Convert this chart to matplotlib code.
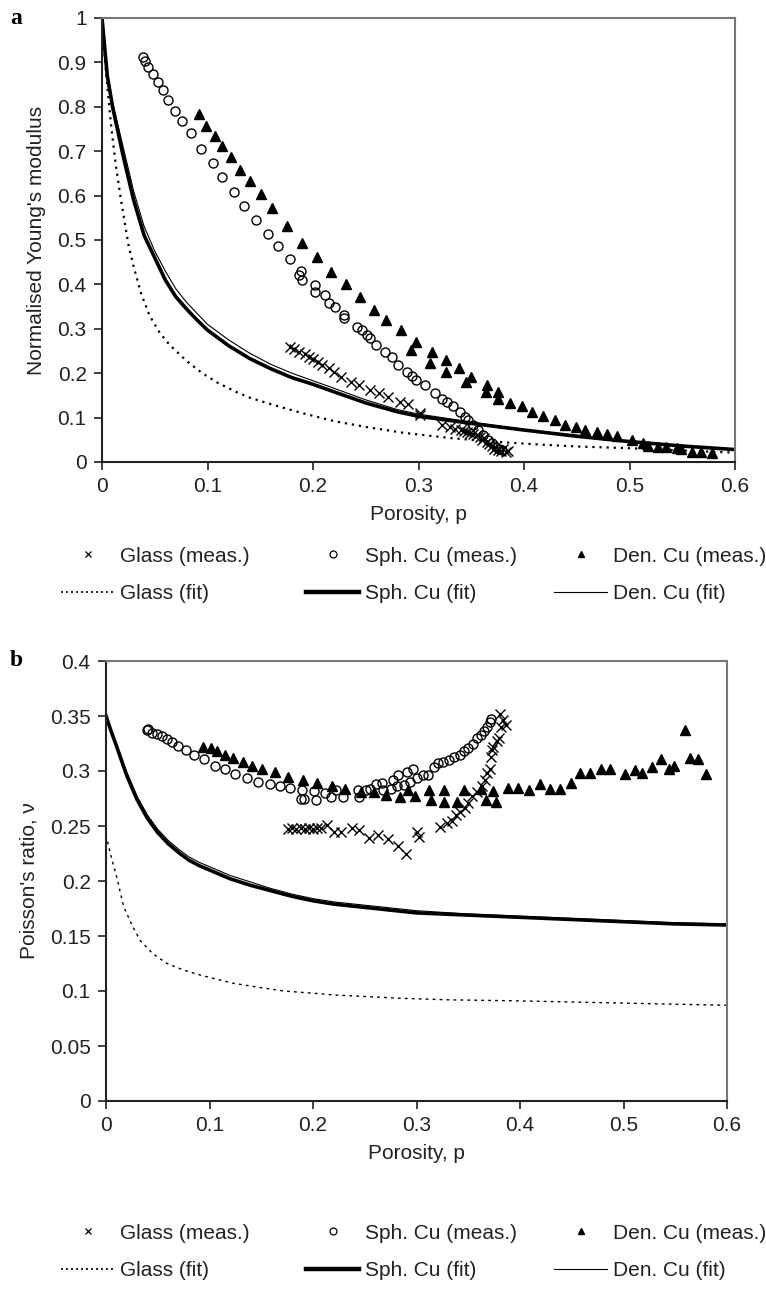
import matplotlib
matplotlib.use('Agg')
import matplotlib.pyplot as plt
from matplotlib.lines import Line2D
from matplotlib.ticker import FuncFormatter, MultipleLocator

plt.rcParams['font.family'] = ['Liberation Sans', 'DejaVu Sans']
plt.rcParams['font.size'] = 15

# ---- (a) normalised Young's modulus ----
glass_p_E = [0.178, 0.182, 0.187, 0.192, 0.196, 0.200, 0.205, 0.209, 0.215, 0.220, 0.227, 0.236, 0.244,
             0.254, 0.263, 0.271, 0.282, 0.290, 0.301, 0.301, 0.322, 0.330, 0.335, 0.340, 0.343, 0.346,
             0.349, 0.352, 0.355, 0.358, 0.360, 0.362, 0.365, 0.367, 0.370, 0.372, 0.375, 0.378, 0.380,
             0.383, 0.385]
glass_E = [0.260, 0.254, 0.248, 0.243, 0.237, 0.231, 0.225, 0.218, 0.211, 0.203, 0.192, 0.181, 0.173,
           0.162, 0.155, 0.147, 0.136, 0.131, 0.110, 0.106, 0.083, 0.078, 0.075, 0.072, 0.070, 0.068,
           0.065, 0.063, 0.060, 0.057, 0.050, 0.055, 0.045, 0.040, 0.035, 0.030, 0.028, 0.025, 0.030,
           0.022, 0.025]

sph_p_E = [0.039, 0.0405, 0.044, 0.048, 0.053, 0.058, 0.063, 0.069, 0.076, 0.084, 0.094, 0.105, 0.114,
           0.125, 0.135, 0.146, 0.157, 0.167, 0.178, 0.189, 0.187, 0.190, 0.202, 0.202, 0.211, 0.215,
           0.221, 0.229, 0.229, 0.242, 0.246, 0.251, 0.254, 0.260, 0.268, 0.275, 0.281, 0.289, 0.294,
           0.298, 0.306, 0.316, 0.322, 0.327, 0.333, 0.339, 0.344, 0.347, 0.352, 0.356, 0.361, 0.366,
           0.370, 0.373, 0.376, 0.379]
sph_E = [0.912, 0.904, 0.890, 0.873, 0.856, 0.838, 0.815, 0.791, 0.767, 0.741, 0.706, 0.673, 0.641,
         0.609, 0.577, 0.544, 0.513, 0.486, 0.457, 0.431, 0.421, 0.410, 0.398, 0.383, 0.375, 0.359,
         0.350, 0.331, 0.325, 0.305, 0.297, 0.286, 0.279, 0.264, 0.248, 0.236, 0.218, 0.203, 0.194,
         0.185, 0.173, 0.156, 0.143, 0.136, 0.125, 0.113, 0.102, 0.095, 0.083, 0.072, 0.061, 0.050,
         0.042, 0.034, 0.030, 0.027]

den_p_E = [0.092, 0.099, 0.107, 0.114, 0.122, 0.131, 0.140, 0.151, 0.161, 0.175, 0.190, 0.204, 0.217,
           0.231, 0.245, 0.258, 0.269, 0.283, 0.298, 0.293, 0.313, 0.311, 0.326, 0.326, 0.338, 0.345,
           0.350, 0.365, 0.364, 0.375, 0.375, 0.387, 0.398, 0.408, 0.418, 0.429, 0.439, 0.449, 0.458,
           0.469, 0.479, 0.488, 0.502, 0.513, 0.518, 0.527, 0.535, 0.545, 0.549, 0.559, 0.568, 0.578]
den_E = [0.783, 0.757, 0.735, 0.712, 0.688, 0.658, 0.633, 0.604, 0.571, 0.532, 0.493, 0.462, 0.429,
         0.401, 0.372, 0.342, 0.320, 0.297, 0.271, 0.252, 0.248, 0.224, 0.230, 0.202, 0.211, 0.181,
         0.192, 0.173, 0.158, 0.158, 0.143, 0.134, 0.125, 0.113, 0.104, 0.095, 0.083, 0.078, 0.072,
         0.068, 0.064, 0.059, 0.050, 0.043, 0.036, 0.034, 0.034, 0.031, 0.029, 0.023, 0.023, 0.020]

glass_fit_p_E = [0, 0.003, 0.006, 0.009, 0.013, 0.018, 0.025, 0.030, 0.037, 0.045, 0.055, 0.064, 0.080,
                 0.095, 0.110, 0.127, 0.140, 0.159, 0.175, 0.190, 0.220, 0.250, 0.285, 0.330, 0.370,
                 0.410, 0.450, 0.500, 0.550, 0.600]
glass_fit_E = [1.0, 0.90, 0.82, 0.75, 0.67, 0.59, 0.49, 0.44, 0.38, 0.33, 0.29, 0.264, 0.228,
               0.200, 0.178, 0.158, 0.145, 0.131, 0.120, 0.110, 0.092, 0.079, 0.066, 0.054, 0.046,
               0.040, 0.035, 0.031, 0.026, 0.021]

fit_p_E = [0, 0.005, 0.01, 0.02, 0.03, 0.04, 0.05, 0.06, 0.07, 0.08, 0.09, 0.10, 0.12, 0.14, 0.16,
           0.18, 0.20, 0.22, 0.25, 0.28, 0.30, 0.35, 0.40, 0.45, 0.50, 0.55, 0.60]
sph_fit_E = [1.0, 0.87, 0.80, 0.69, 0.59, 0.51, 0.46, 0.41, 0.372, 0.345, 0.32, 0.297, 0.262, 0.233,
             0.210, 0.190, 0.175, 0.158, 0.133, 0.113, 0.103, 0.087, 0.072, 0.058, 0.046, 0.036, 0.028]
den_fit_E = [1.0, 0.88, 0.81, 0.71, 0.61, 0.53, 0.475, 0.43, 0.39, 0.36, 0.335, 0.31, 0.275, 0.245,
             0.220, 0.200, 0.183, 0.166, 0.140, 0.118, 0.108, 0.090, 0.073, 0.060, 0.047, 0.037, 0.029]

# ---- (b) Poisson's ratio ----
glass_p_v = [0.176, 0.180, 0.184, 0.188, 0.192, 0.196, 0.200, 0.204, 0.208, 0.214, 0.220, 0.227, 0.238,
             0.244, 0.254, 0.263, 0.272, 0.282, 0.290, 0.300, 0.302, 0.323, 0.329, 0.334, 0.338, 0.342,
             0.347, 0.350, 0.354, 0.358, 0.363, 0.366, 0.368, 0.371, 0.372, 0.374, 0.378, 0.380, 0.373,
             0.381, 0.382, 0.384, 0.386]
glass_v = [0.247, 0.248, 0.247, 0.248, 0.247, 0.248, 0.247, 0.248, 0.248, 0.251, 0.245, 0.245, 0.248,
           0.246, 0.239, 0.242, 0.238, 0.232, 0.225, 0.245, 0.240, 0.249, 0.253, 0.255, 0.260, 0.263,
           0.266, 0.271, 0.277, 0.281, 0.286, 0.292, 0.298, 0.302, 0.313, 0.322, 0.327, 0.330, 0.319,
           0.352, 0.340, 0.346, 0.342]

sph_p_v = [0.0396, 0.041, 0.044, 0.049, 0.054, 0.059, 0.064, 0.070, 0.077, 0.085, 0.095, 0.105, 0.115,
           0.125, 0.136, 0.147, 0.158, 0.168, 0.178, 0.188, 0.191, 0.189, 0.201, 0.203, 0.212, 0.217,
           0.222, 0.229, 0.243, 0.244, 0.251, 0.255, 0.261, 0.267, 0.268, 0.275, 0.277, 0.281, 0.282,
           0.288, 0.291, 0.294, 0.297, 0.300, 0.306, 0.311, 0.317, 0.321, 0.326, 0.331, 0.336, 0.342,
           0.346, 0.350, 0.355, 0.358, 0.362, 0.365, 0.368, 0.371, 0.372]
sph_v = [0.337, 0.338, 0.335, 0.334, 0.332, 0.329, 0.326, 0.323, 0.319, 0.315, 0.311, 0.305, 0.302,
         0.297, 0.294, 0.290, 0.288, 0.286, 0.285, 0.275, 0.275, 0.283, 0.282, 0.274, 0.280, 0.276,
         0.283, 0.276, 0.283, 0.276, 0.283, 0.284, 0.288, 0.289, 0.283, 0.284, 0.292, 0.286, 0.296,
         0.287, 0.299, 0.290, 0.302, 0.294, 0.296, 0.296, 0.304, 0.307, 0.308, 0.310, 0.313, 0.315,
         0.318, 0.321, 0.325, 0.330, 0.333, 0.336, 0.340, 0.345, 0.347]

den_p_v = [0.094, 0.101, 0.107, 0.115, 0.123, 0.132, 0.141, 0.151, 0.163, 0.176, 0.190, 0.204, 0.218,
           0.231, 0.246, 0.259, 0.271, 0.284, 0.292, 0.299, 0.312, 0.314, 0.327, 0.327, 0.339, 0.346,
           0.362, 0.367, 0.374, 0.377, 0.388, 0.398, 0.409, 0.419, 0.429, 0.439, 0.449, 0.458, 0.468,
           0.478, 0.487, 0.501, 0.511, 0.518, 0.528, 0.536, 0.544, 0.549, 0.559, 0.564, 0.572, 0.580]
den_v = [0.322, 0.321, 0.318, 0.315, 0.312, 0.308, 0.305, 0.302, 0.299, 0.295, 0.292, 0.289, 0.286,
         0.284, 0.281, 0.281, 0.278, 0.276, 0.283, 0.277, 0.283, 0.274, 0.283, 0.272, 0.272, 0.283,
         0.284, 0.274, 0.282, 0.272, 0.285, 0.285, 0.283, 0.288, 0.284, 0.284, 0.289, 0.298, 0.298,
         0.302, 0.302, 0.297, 0.301, 0.298, 0.304, 0.311, 0.302, 0.305, 0.337, 0.312, 0.311, 0.297]

glass_fit_p_v = [0, 0.005, 0.01, 0.017, 0.025, 0.033, 0.045, 0.059, 0.075, 0.091, 0.11, 0.123, 0.15,
                 0.172, 0.20, 0.22, 0.25, 0.284, 0.33, 0.40, 0.45, 0.50, 0.55, 0.60]
glass_fit_v = [0.242, 0.222, 0.205, 0.177, 0.160, 0.146, 0.134, 0.125, 0.119, 0.1145, 0.110, 0.107,
               0.103, 0.100, 0.098, 0.0964, 0.095, 0.0934, 0.092, 0.091, 0.090, 0.089, 0.088, 0.087]

fit_p_v = [0, 0.005, 0.01, 0.02, 0.03, 0.04, 0.05, 0.06, 0.07, 0.08, 0.09, 0.10, 0.12, 0.14, 0.16,
           0.18, 0.20, 0.22, 0.25, 0.28, 0.30, 0.35, 0.40, 0.45, 0.50, 0.55, 0.60]
sph_fit_v = [0.35, 0.336, 0.323, 0.296, 0.274, 0.257, 0.244, 0.234, 0.226, 0.219, 0.214, 0.210, 0.202,
             0.196, 0.191, 0.186, 0.182, 0.179, 0.176, 0.173, 0.171, 0.169, 0.167, 0.165, 0.163, 0.161, 0.160]
den_fit_v = [0.35, 0.337, 0.325, 0.299, 0.277, 0.260, 0.247, 0.237, 0.229, 0.222, 0.217, 0.213, 0.205,
             0.199, 0.193, 0.188, 0.184, 0.181, 0.178, 0.175, 0.173, 0.170, 0.168, 0.166, 0.164, 0.162, 0.161]

labels_meas = ['Glass (meas.)', 'Sph. Cu (meas.)', 'Den. Cu (meas.)']
labels_fit = ['Glass (fit)', 'Sph. Cu (fit)', 'Den. Cu (fit)']

W, H = 766, 1290
fig = plt.figure(figsize=(W / 100, H / 100), dpi=100)


def style_axes(ax, ymax, ystep):
    ax.set_xlim(0, 0.6)
    ax.set_ylim(0, ymax)
    ax.xaxis.set_major_locator(MultipleLocator(0.1))
    ax.yaxis.set_major_locator(MultipleLocator(ystep))
    fmt = FuncFormatter(lambda v, pos: '%g' % round(v, 3))
    ax.xaxis.set_major_formatter(fmt)
    ax.yaxis.set_major_formatter(fmt)
    ax.tick_params(direction='out', length=6, width=1.2, colors='#222222', labelcolor='#222222', pad=5)
    for s in ['left', 'bottom']:
        ax.spines[s].set_color('#222222')
        ax.spines[s].set_linewidth(1.5)
    for s in ['top', 'right']:
        ax.spines[s].set_color('#777777')
        ax.spines[s].set_linewidth(1.5)
    ax.set_xlabel('Porosity, p', color='#222222', labelpad=6)


def add_legend(y_center):
    # one small legend per column: measured markers on top, fitted line below
    handles = [
        (Line2D([], [], ls='none', marker='x', ms=5, mew=0.9, color='k'),
         Line2D([], [], ls=(0, (1.2, 1.8)), lw=1.2, color='k')),
        (Line2D([], [], ls='none', marker='o', ms=5, mfc='none', mew=0.9, color='k'),
         Line2D([], [], ls='-', lw=3.2, color='k')),
        (Line2D([], [], ls='none', marker='^', ms=5, color='k'),
         Line2D([], [], ls='-', lw=0.8, color='k')),
    ]
    x_starts = [61, 306, 554]
    for i in range(3):
        fig.legend(handles[i], [labels_meas[i], labels_fit[i]], loc='center left',
                   bbox_to_anchor=(x_starts[i] / W, y_center), frameon=False,
                   handlelength=2.55, handletextpad=0.3, labelspacing=0.9,
                   borderpad=0, borderaxespad=0, fontsize=15, labelcolor='#222222')


# panel a
ax1 = fig.add_axes([102 / W, 1 - 462 / H, 633 / W, 444 / H])
ax1.plot(glass_fit_p_E, glass_fit_E, color='k', lw=1.6, ls=(0, (1, 2.2)))
ax1.plot(fit_p_E, den_fit_E, color='k', lw=0.8)
ax1.plot(fit_p_E, sph_fit_E, color='k', lw=2.6)
ax1.plot(glass_p_E, glass_E, ls='none', marker='x', ms=7, mew=1.0, color='k')
ax1.plot(sph_p_E, sph_E, ls='none', marker='o', ms=6.5, mfc='none', mew=1.0, color='k')
ax1.plot(den_p_E, den_E, ls='none', marker='^', ms=7, color='k')
style_axes(ax1, 1.0, 0.1)
ax1.set_ylabel("Normalised Young's modulus", color='#222222', labelpad=8)
add_legend(1 - 575 / H)
fig.text(10 / W, 1 - 18 / H, 'a', family='Liberation Serif', weight='bold', fontsize=17,
         va='center', ha='left')

# panel b
ax2 = fig.add_axes([106 / W, 1 - 1101 / H, 621 / W, 440 / H])
ax2.plot(glass_fit_p_v, glass_fit_v, color='k', lw=1.0, ls=(0, (2, 3)))
ax2.plot(fit_p_v, den_fit_v, color='k', lw=0.8)
ax2.plot(fit_p_v, sph_fit_v, color='k', lw=2.6)
ax2.plot(glass_p_v, glass_v, ls='none', marker='x', ms=7, mew=1.0, color='k')
ax2.plot(sph_p_v, sph_v, ls='none', marker='o', ms=6.5, mfc='none', mew=1.0, color='k')
ax2.plot(den_p_v, den_v, ls='none', marker='^', ms=7, color='k')
style_axes(ax2, 0.4, 0.05)
ax2.set_ylabel("Poisson's ratio, \u03bd", color='#222222', labelpad=8)
add_legend(1 - 1252 / H)
fig.text(10 / W, 1 - 661 / H, 'b', family='Liberation Serif', weight='bold', fontsize=17,
         va='center', ha='left')

fig.savefig('out.png', dpi=100)
